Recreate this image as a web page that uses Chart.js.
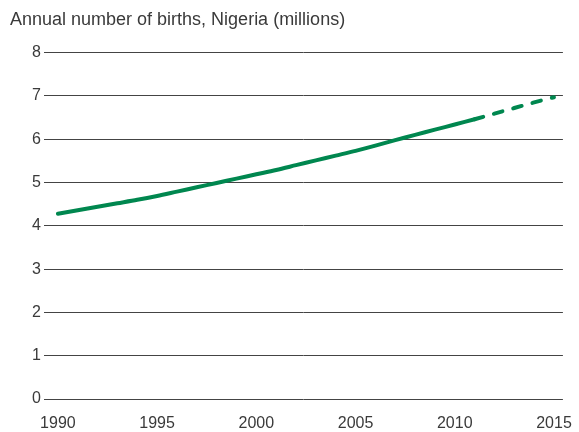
<!DOCTYPE html>
<html>
<head>
<meta charset="utf-8">
<script src="https://cdn.jsdelivr.net/npm/chart.js@4/dist/chart.umd.min.js"></script>
<style>
  html, body { margin: 0; padding: 0; background: #fff; }
  #wrap { width: 579px; height: 432px; }
</style>
</head>
<body>
<div id="wrap"><canvas id="births"></canvas></div>
<script>
// Annual births, Nigeria (millions)
const estYears = [1990, 1991, 1992, 1993, 1994, 1995, 1996, 1997, 1998, 1999, 2000,
  2001, 2002, 2003, 2004, 2005, 2006, 2007, 2008, 2009, 2010, 2011];
const estBirths = [4.28, 4.36, 4.44, 4.52, 4.60, 4.69, 4.79, 4.89, 4.99, 5.09, 5.19,
  5.29, 5.40, 5.51, 5.62, 5.73, 5.85, 5.98, 6.10, 6.22, 6.34, 6.46];
const projYears = [2011, 2012, 2013, 2014, 2015];
const projBirths = [6.46, 6.59, 6.72, 6.85, 6.97];
const xTicks = [1990, 1995, 2000, 2005, 2010, 2015];
const yTicks = [0, 1, 2, 3, 4, 5, 6, 7, 8];

const green = '#00874f';
const textColor = '#3a3a3a';
const font = { family: 'Liberation Sans, Arial, sans-serif', size: 16 };

const toPoints = (xs, ys) => xs.map((x, i) => ({ x: x, y: ys[i] }));

new Chart(document.getElementById('births'), {
  type: 'line',
  data: {
    datasets: [{
      label: 'Estimates',
      data: toPoints(estYears, estBirths),
      borderColor: green,
      borderWidth: 4,
      pointRadius: 0,
      tension: 0.3,
      borderCapStyle: 'round',
      fill: false
    }, {
      label: 'Projection',
      data: toPoints(projYears, projBirths),
      borderColor: green,
      borderWidth: 4,
      borderDash: [9, 11],
      borderCapStyle: 'round',
      pointRadius: 0,
      tension: 0.3,
      fill: false
    }]
  },
  options: {
    responsive: true,
    maintainAspectRatio: false,
    animation: false,
    layout: { padding: { left: 10, right: 13, top: 0, bottom: 0 } },
    plugins: {
      legend: { display: false },
      tooltip: { enabled: false },
      title: {
        display: true,
        text: 'Annual number of births, Nigeria (millions)',
        align: 'start',
        color: textColor,
        font: { family: font.family, size: 18, weight: 'normal', lineHeight: 1.2 },
        padding: { top: 9, bottom: 22 }
      }
    },
    scales: {
      x: {
        type: 'linear',
        min: 1989.3,
        max: 2015.45,
        afterBuildTicks: (scale) => { scale.ticks = xTicks.map(v => ({ value: v })); },
        afterFit: (scale) => { scale.height = 33; },
        grid: { display: false },
        border: { display: false },
        ticks: {
          color: textColor,
          font: font,
          padding: 7,
          maxRotation: 0,
          autoSkip: false,
          callback: (v) => String(v)
        }
      },
      y: {
        min: 0,
        max: 8,
        afterBuildTicks: (scale) => { scale.ticks = yTicks.map(v => ({ value: v })); },
        afterFit: (scale) => { scale.width = 34; },
        grid: { color: '#444', lineWidth: 1, drawTicks: false },
        border: { display: false },
        ticks: { color: textColor, font: font, padding: 3 }
      }
    }
  }
});
</script>
</body>
</html>
